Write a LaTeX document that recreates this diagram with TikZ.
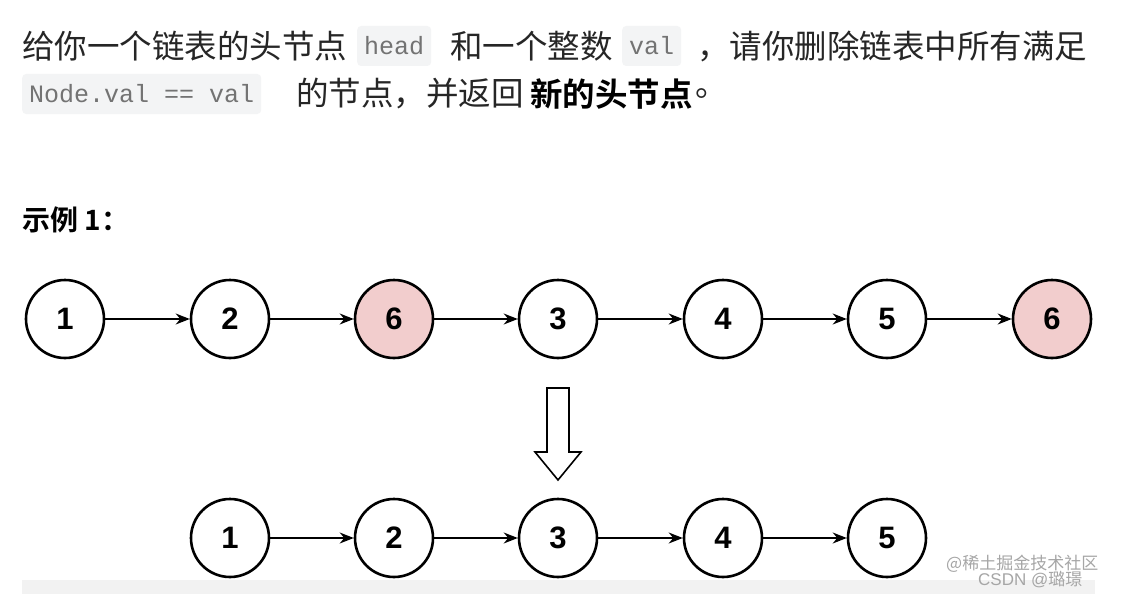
\documentclass[tikz,border=0pt]{standalone}
\usepackage{fontspec}
\setmainfont{Liberation Sans}
\newfontfamily\cjk[BoldFont={Noto Sans CJK SC Bold}]{Noto Sans CJK SC}
\newfontfamily\codefont{Liberation Mono}
\usetikzlibrary{arrows.meta}
\definecolor{codebg}{HTML}{F3F4F5}
\definecolor{pinkfill}{HTML}{F2CDCD}
\tikzset{
  ll/.style={circle,draw=black,line width=2.6pt,minimum size=78pt,inner sep=0pt,font=\fontsize{31}{31}\selectfont\bfseries,fill=white},
  del/.style={ll,fill=pinkfill},
  lnk/.style={-{Stealth[length=14pt,width=11pt]},line width=2pt},
  zh/.style={anchor=west,inner sep=0pt,font=\cjk\fontsize{32.5}{32.5}\selectfont,text=black!85},
  code/.style={anchor=west,fill=codebg,rounded corners=4pt,inner xsep=7pt,minimum height=40pt,font=\codefont\fontsize{25}{25}\selectfont,text=black!55},
  wm/.style={font=\cjk\fontsize{17}{17}\selectfont,text=black!35,anchor=west,inner sep=0pt}
}
\begin{document}
\begin{tikzpicture}[x=1pt,y=-1pt]
\useasboundingbox[fill=white] (0,0) rectangle (1125,594);
% text
\node[zh] (t1) at (22,46) {给你一个链表的头节点};
\node[code] (c1) at (357,46) {head};
\node[zh] (t2) at (450,46) {和一个整数};
\node[code] (c2) at (622,46) {val};
\node[zh] (t3) at (697,46) {，请你删除链表中所有满足};
\node[code] (c3) at (22,94) {Node.val == val};
\node[zh] (t4) at (296,94) {的节点，并返回};
\node[zh,font=\cjk\bfseries\fontsize{32.5}{32.5}\selectfont,text=black] (t5) at (530,94) {新的头节点};
\node[zh] (t6) at (695,94) {。};
\node[zh,font=\cjk\bfseries\fontsize{28}{28}\selectfont,text=black] (ex) at (22,220) {示例 1：};
% row 1
\node[ll] (a1) at (65,319) {1};
\node[ll] (a2) at (230,319) {2};
\node[del] (a3) at (394,319) {6};
\node[ll] (a4) at (558,319) {3};
\node[ll] (a5) at (723,319) {4};
\node[ll] (a6) at (887,319) {5};
\node[del] (a7) at (1052,319) {6};
\foreach \i/\j in {a1/a2,a2/a3,a3/a4,a4/a5,a5/a6,a6/a7} \draw[lnk] (\i) -- (\j);
% hollow arrow
\draw[line width=1.6pt,fill=white] (547,388) -- (569,388) -- (569,452) -- (581,452) -- (558,480) -- (535,452) -- (547,452) -- cycle;
% row 2
\node[ll] (b1) at (230,538) {1};
\node[ll] (b2) at (394,538) {2};
\node[ll] (b3) at (558,538) {3};
\node[ll] (b4) at (723,538) {4};
\node[ll] (b5) at (887,538) {5};
\foreach \i/\j in {b1/b2,b2/b3,b3/b4,b4/b5} \draw[lnk] (\i) -- (\j);
% bottom bar
\fill[black!5] (22,580) rectangle (1095,594);
\node[wm] (w1) at (946,564) {@稀土掘金技术社区};
\node[wm,font=\fontsize{17}{17}\selectfont] (w2) at (978,580) {CSDN @\cjk 璐璟};
\end{tikzpicture}
\end{document}
